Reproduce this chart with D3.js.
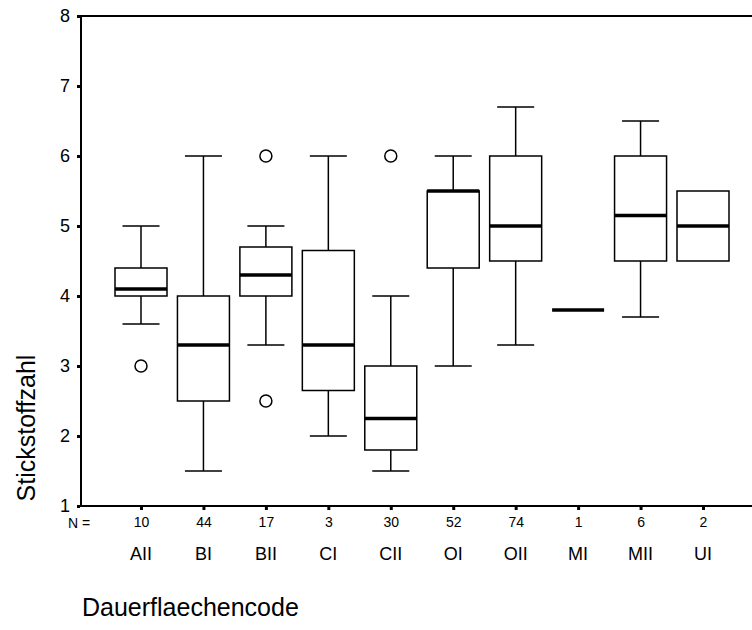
<!DOCTYPE html>
<html>
<head>
<meta charset="utf-8">
<script src="https://cdn.jsdelivr.net/npm/d3@7"></script>
<style>
  html, body { margin: 0; padding: 0; background: #fff; }
  svg { display: block; font-family: Arial, "Liberation Sans", sans-serif; }
</style>
</head>
<body>
<svg id="chart" width="752" height="630"></svg>
<script>
// ---- data ----
const categories  = ["AII", "BI", "BII", "CI", "CII", "OI", "OII", "MI", "MII", "UI"];
const nCounts     = [10, 44, 17, 3, 30, 52, 74, 1, 6, 2];
const whiskerLow  = [3.6, 1.5, 3.3, 2.0, 1.5, 3.0, 3.3, 3.8, 3.7, 4.5];
const q1Values    = [4.0, 2.5, 4.0, 2.65, 1.8, 4.4, 4.5, 3.8, 4.5, 4.5];
const medians     = [4.1, 3.3, 4.3, 3.3, 2.25, 5.5, 5.0, 3.8, 5.15, 5.0];
const q3Values    = [4.4, 4.0, 4.7, 4.65, 3.0, 5.5, 6.0, 3.8, 6.0, 5.5];
const whiskerHigh = [5.0, 6.0, 5.0, 6.0, 4.0, 6.0, 6.7, 3.8, 6.5, 5.5];
const outlierCats = ["AII", "BII", "BII", "CII"];
const outlierVals = [3.0, 6.0, 2.5, 6.0];
const yTicks      = [1, 2, 3, 4, 5, 6, 7, 8];
const yTitle = "Stickstoffzahl";
const xTitle = "Dauerflaechencode";

// ---- layout ----
const svg = d3.select("#chart");
const plotL = 81, plotR = 752, plotT = 16, plotB = 506;
const x = d3.scalePoint().domain(categories).range([141, 703]);
const y = d3.scaleLinear().domain([1, 8]).range([plotB, plotT]);
const boxW = 52, capW = 37;

// axis frame lines
svg.append("line").attr("x1", plotL).attr("x2", plotL).attr("y1", plotT - 1).attr("y2", plotB + 1)
  .attr("stroke", "#000").attr("stroke-width", 2);
svg.append("line").attr("x1", plotL - 1).attr("x2", plotR).attr("y1", plotB).attr("y2", plotB)
  .attr("stroke", "#000").attr("stroke-width", 2);
svg.append("line").attr("x1", plotL - 1).attr("x2", plotR).attr("y1", plotT).attr("y2", plotT)
  .attr("stroke", "#000").attr("stroke-width", 2);

// y axis
const yAxis = svg.append("g").attr("transform", `translate(${plotL - 1},0)`)
  .call(d3.axisLeft(y).tickValues(yTicks).tickFormat(d3.format("d")).tickSize(3).tickPadding(7));
yAxis.select(".domain").remove();
yAxis.selectAll(".tick line").attr("stroke", "#000").attr("stroke-width", 3);
yAxis.selectAll(".tick text").attr("font-size", 18).attr("fill", "#000")
  .attr("font-family", "Arial, 'Liberation Sans', sans-serif");

// x axis (N labels)
const nMap = new Map(categories.map((c, i) => [c, nCounts[i]]));
const xAxis = svg.append("g").attr("transform", `translate(0,${plotB + 1})`)
  .call(d3.axisBottom(x).tickFormat(c => nMap.get(c)).tickSize(3).tickPadding(7));
xAxis.select(".domain").remove();
xAxis.selectAll(".tick line").attr("stroke", "#000").attr("stroke-width", 3);
xAxis.selectAll(".tick text").attr("font-size", 14).attr("fill", "#000")
  .attr("font-family", "Arial, 'Liberation Sans', sans-serif");

svg.append("text").attr("x", 79).attr("y", 528).attr("text-anchor", "middle")
  .attr("font-size", 14).text("N =");

// category labels
svg.append("g").selectAll("text").data(categories).join("text")
  .attr("x", d => x(d)).attr("y", 560).attr("text-anchor", "middle")
  .attr("font-size", 18).text(d => d);

// box plots
const boxes = categories.map((c, i) => ({
  c, lo: whiskerLow[i], q1: q1Values[i], med: medians[i], q3: q3Values[i], hi: whiskerHigh[i]
}));
const g = svg.append("g").attr("stroke", "#000").attr("fill", "none");
boxes.forEach(b => {
  const cx = x(b.c);
  if (b.q3 > b.q1) {
    if (b.hi > b.q3) {
      g.append("line").attr("x1", cx).attr("x2", cx).attr("y1", y(b.hi)).attr("y2", y(b.q3)).attr("stroke-width", 1.5);
      g.append("line").attr("x1", cx - capW / 2).attr("x2", cx + capW / 2).attr("y1", y(b.hi)).attr("y2", y(b.hi)).attr("stroke-width", 1.5);
    }
    if (b.lo < b.q1) {
      g.append("line").attr("x1", cx).attr("x2", cx).attr("y1", y(b.q1)).attr("y2", y(b.lo)).attr("stroke-width", 1.5);
      g.append("line").attr("x1", cx - capW / 2).attr("x2", cx + capW / 2).attr("y1", y(b.lo)).attr("y2", y(b.lo)).attr("stroke-width", 1.5);
    }
    g.append("rect").attr("x", cx - boxW / 2).attr("y", y(b.q3)).attr("width", boxW)
      .attr("height", y(b.q1) - y(b.q3)).attr("fill", "#fff").attr("stroke-width", 1.5);
  }
  g.append("line").attr("x1", cx - boxW / 2).attr("x2", cx + boxW / 2)
    .attr("y1", y(b.med)).attr("y2", y(b.med)).attr("stroke-width", 3.5);
});

// outliers
svg.append("g").selectAll("circle").data(outlierCats.map((c, i) => ({ c, v: outlierVals[i] })))
  .join("circle").attr("cx", d => x(d.c)).attr("cy", d => y(d.v)).attr("r", 6)
  .attr("fill", "none").attr("stroke", "#000").attr("stroke-width", 1.5);

// titles
svg.append("text").attr("transform", `translate(35,428) rotate(-90)`)
  .attr("text-anchor", "middle").attr("font-size", 25).text(yTitle);
svg.append("text").attr("x", 82).attr("y", 616).attr("font-size", 25).text(xTitle);
</script>
</body>
</html>
